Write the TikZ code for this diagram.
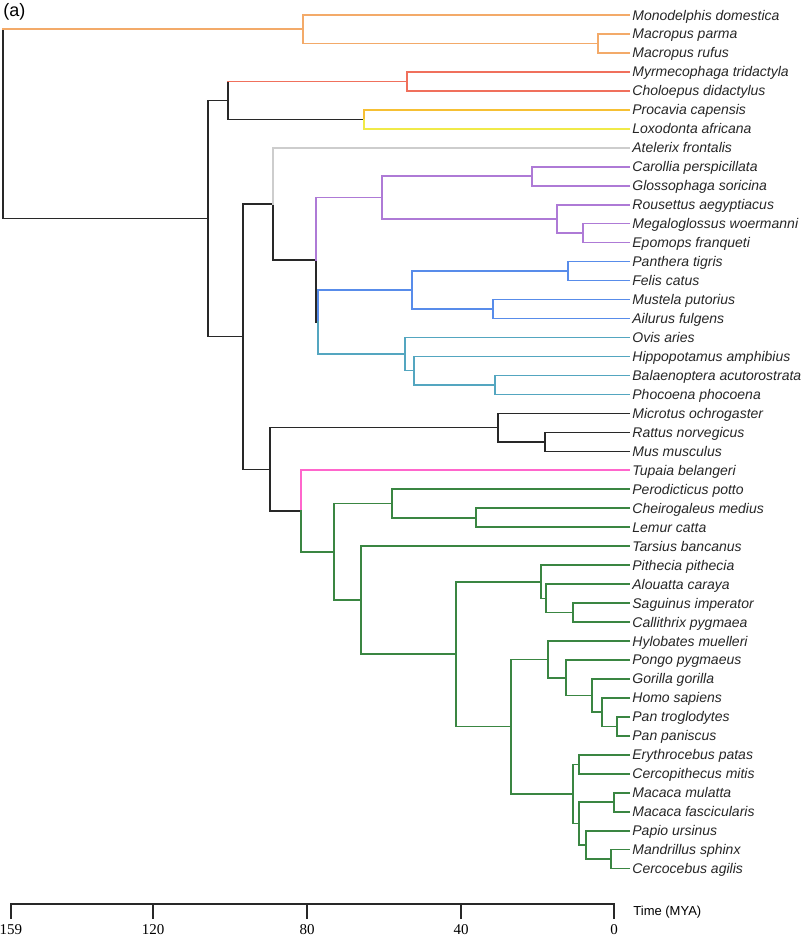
\documentclass[tikz,border=0pt]{standalone}
\usepackage{fontspec}
\setmainfont{Liberation Serif}
\setsansfont{Liberation Sans}
\usetikzlibrary{calc}
\definecolor{marsup}{RGB}{243,170,105}
\definecolor{xenar}{RGB}{240,112,92}
\definecolor{hyrax}{RGB}{246,192,52}
\definecolor{eleph}{RGB}{240,234,72}
\definecolor{hedge}{RGB}{205,205,205}
\definecolor{bats}{RGB}{174,122,214}
\definecolor{carniv}{RGB}{88,140,234}
\definecolor{cetart}{RGB}{84,166,192}
\definecolor{shrew}{RGB}{255,102,204}
\definecolor{primat}{RGB}{58,134,66}
\definecolor{stem}{RGB}{40,40,40}
\newcommand\mkclade[4]{\path let \p1=($(#3)!.5!(#4)$) in coordinate (#1) at (#2*0.5pt,\y1);}
\begin{document}
\begin{tikzpicture}[x=0.5pt,y=-0.5pt,line cap=rect,
  edge/.style={line width=0.8pt},
  tip/.style={anchor=base west,inner sep=0pt,xshift=1.5pt,yshift=-2.5pt,text=black!85,
    font=\fontsize{7}{8}\selectfont\sffamily\itshape},
  ticklab/.style={inner sep=0pt,font=\fontsize{7.5}{9}\selectfont\rmfamily}]
  \useasboundingbox (0,0) rectangle (800,937);
  \foreach \sp [count=\i from 0] in {Monodelphis domestica,Macropus parma,Macropus rufus,
    Myrmecophaga tridactyla,Choloepus didactylus,Procavia capensis,Loxodonta africana,
    Atelerix frontalis,Carollia perspicillata,Glossophaga soricina,Rousettus aegyptiacus,
    Megaloglossus woermanni,Epomops franqueti,Panthera tigris,Felis catus,Mustela putorius,
    Ailurus fulgens,Ovis aries,Hippopotamus amphibius,Balaenoptera acutorostrata,
    Phocoena phocoena,Microtus ochrogaster,Rattus norvegicus,Mus musculus,Tupaia belangeri,
    Perodicticus potto,Cheirogaleus medius,Lemur catta,Tarsius bancanus,Pithecia pithecia,
    Alouatta caraya,Saguinus imperator,Callithrix pygmaea,Hylobates muelleri,Pongo pygmaeus,
    Gorilla gorilla,Homo sapiens,Pan troglodytes,Pan paniscus,Erythrocebus patas,
    Cercopithecus mitis,Macaca mulatta,Macaca fascicularis,Papio ursinus,Mandrillus sphinx,
    Cercocebus agilis} {
   \coordinate (t\i) at (629,{15+18.97*\i});
   \node[tip] (n\i) at (t\i) {\sp};
  }
  \mkclade{macr}{598}{t1}{t2}
  \mkclade{mars}{303}{t0}{macr}
  \mkclade{xen}{407}{t3}{t4}
  \mkclade{afr}{364}{t5}{t6}
  \mkclade{atl}{228}{xen}{afr}
  \mkclade{phyl}{532}{t8}{t9}
  \mkclade{megep}{583}{t11}{t12}
  \mkclade{pter}{557}{t10}{megep}
  \mkclade{chir}{382}{phyl}{pter}
  \mkclade{fel}{568}{t13}{t14}
  \mkclade{must}{493}{t15}{t16}
  \mkclade{carn}{412}{fel}{must}
  \mkclade{cet}{495}{t19}{t20}
  \mkclade{whip}{414}{t18}{cet}
  \mkclade{ceta}{405}{t17}{whip}
  \mkclade{feru}{318}{carn}{ceta}
  \mkclade{scro}{316}{chir}{feru}
  \mkclade{lau}{273}{t7}{scro}
  \mkclade{mur}{545}{t22}{t23}
  \mkclade{rod}{498}{t21}{mur}
  \mkclade{lem}{476}{t26}{t27}
  \mkclade{strep}{392}{t25}{lem}
  \mkclade{call}{573}{t31}{t32}
  \mkclade{atel}{546}{t30}{call}
  \mkclade{plat}{541}{t29}{atel}
  \mkclade{pan}{617}{t37}{t38}
  \mkclade{hom4}{602}{t36}{pan}
  \mkclade{hom3}{592}{t35}{hom4}
  \mkclade{hom2}{566}{t34}{hom3}
  \mkclade{hom}{548}{t33}{hom2}
  \mkclade{cerA}{579}{t39}{t40}
  \mkclade{mac}{614}{t41}{t42}
  \mkclade{man}{611}{t44}{t45}
  \mkclade{pap}{586}{t43}{man}
  \mkclade{cerB}{579}{mac}{pap}
  \mkclade{cerc}{573}{cerA}{cerB}
  \mkclade{cata}{511}{hom}{cerc}
  \mkclade{anth}{456}{plat}{cata}
  \mkclade{hapl}{361}{t28}{anth}
  \mkclade{prim}{334}{strep}{hapl}
  \mkclade{euar}{301}{t24}{prim}
  \mkclade{euag}{270}{rod}{euar}
  \mkclade{bor}{243}{lau}{euag}
  \mkclade{plac}{208}{atl}{bor}
  \mkclade{root}{3}{mars}{plac}
  \draw[edge,stem] (root |- mars) -- (root |- plac);
  \draw[edge,marsup] (root |- mars) -- (mars);
  \draw[edge,stem] (atl |- xen) -- (atl |- afr);
  \draw[edge,xenar] (atl |- xen) -- (xen);
  \foreach \p/\c in {root/plac,plac/atl,plac/bor,atl/afr,bor/lau,bor/euag,lau/scro,
    scro/feru,euag/rod,euag/euar,rod/t21,rod/mur,mur/t22,mur/t23}
   \draw[edge,stem] (\p) |- (\c);
  \foreach \p/\c in {mars/t0,mars/macr,macr/t1,macr/t2}
   \draw[edge,marsup] (\p) |- (\c);
  \foreach \p/\c in {xen/t3,xen/t4}
   \draw[edge,xenar] (\p) |- (\c);
  \draw[edge,hyrax] (afr) |- (t5);
  \draw[edge,eleph] (afr) |- (t6);
  \draw[edge,hedge] (lau) |- (t7);
  \foreach \p/\c in {scro/chir,chir/phyl,chir/pter,phyl/t8,phyl/t9,pter/t10,pter/megep,
    megep/t11,megep/t12}
   \draw[edge,bats] (\p) |- (\c);
  \foreach \p/\c in {feru/carn,carn/fel,carn/must,fel/t13,fel/t14,must/t15,must/t16}
   \draw[edge,carniv] (\p) |- (\c);
  \foreach \p/\c in {feru/ceta,ceta/t17,ceta/whip,whip/t18,whip/cet,cet/t19,cet/t20}
   \draw[edge,cetart] (\p) |- (\c);
  \draw[edge,shrew] (euar) |- (t24);
  \foreach \p/\c in {euar/prim,prim/strep,prim/hapl,strep/t25,strep/lem,lem/t26,lem/t27,
    hapl/t28,hapl/anth,anth/plat,anth/cata,plat/t29,plat/atel,atel/t30,atel/call,
    call/t31,call/t32,cata/hom,cata/cerc,hom/t33,hom/hom2,hom2/t34,hom2/hom3,hom3/t35,
    hom3/hom4,hom4/t36,hom4/pan,pan/t37,pan/t38,cerc/cerA,cerc/cerB,cerA/t39,cerA/t40,
    cerB/mac,cerB/pap,mac/t41,mac/t42,pap/t43,pap/man,man/t44,man/t45}
   \draw[edge,primat] (\p) |- (\c);
  \node[anchor=west,inner sep=0pt,font=\fontsize{9}{10}\selectfont\sffamily] (panel) at (3,12) {(a)};
  \coordinate (axl) at (11,904);
  \coordinate (axr) at (614,904);
  \draw[line width=0.7pt,stem] (axl) -- (axr);
  \foreach \xp/\lab [count=\k] in {11/159,153/120,307/80,461/40,614/0} {
   \coordinate (tk\k) at (\xp,904);
   \draw[line width=0.7pt,stem] (tk\k) -- ++(0,14);
   \node[ticklab] (tl\k) at (\xp,930) {\lab};
  }
  \node[anchor=west,inner sep=0pt,font=\fontsize{6.5}{8}\selectfont\sffamily] (tlab) at (633,912) {Time (MYA)};
 \end{tikzpicture}
\end{document}
